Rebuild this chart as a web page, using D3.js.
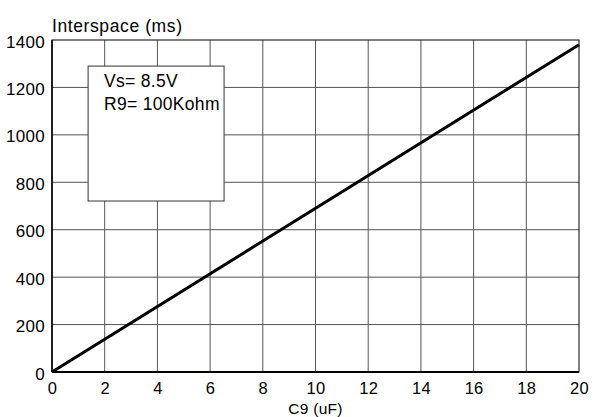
<!DOCTYPE html>
<html><head><meta charset="utf-8">
<script src="https://cdn.jsdelivr.net/npm/d3@7"></script>
<style>body{margin:0;background:#fff}svg{display:block}text{font-family:"Liberation Sans",Arial,sans-serif;fill:#000}</style>
</head><body><svg id="c" width="596" height="417"></svg>
<script>
const xTicks = [0,2,4,6,8,10,12,14,16,18,20];
const yTicks = [0,200,400,600,800,1000,1200,1400];
const c9 = [0, 20];
const interspace = [0, 1380];
const notes = ["Vs= 8.5V", "R9= 100Kohm"];
const yLabel = "Interspace (ms)";
const xLabel = "C9 (uF)";

const svg = d3.select("#c");
const m = {l:52, r:17, t:40, b:45};
const W = 596, H = 417;
const FS = 17;
const x = d3.scaleLinear().domain([0,20]).range([m.l, W-m.r]);
const y = d3.scaleLinear().domain([0,1400]).range([H-m.b, m.t]);

// grid
svg.append("g").selectAll("line").data(xTicks.slice(1,-1)).join("line")
  .attr("x1",d=>x(d)).attr("x2",d=>x(d)).attr("y1",y(0)).attr("y2",y(1400))
  .attr("stroke","#555").attr("stroke-width",1);
svg.append("g").selectAll("line").data(yTicks.slice(1,-1)).join("line")
  .attr("y1",d=>y(d)).attr("y2",d=>y(d)).attr("x1",x(0)).attr("x2",x(20))
  .attr("stroke","#555").attr("stroke-width",1);

// note box
const bx0 = x(1.37), bx1 = x(6.53), by0 = y(1290), by1 = y(721);
svg.append("rect").attr("x",bx0).attr("y",by0).attr("width",bx1-bx0).attr("height",by1-by0)
  .attr("fill","#fff").attr("stroke","#333").attr("stroke-width",1);
svg.append("g").selectAll("text").data(notes).join("text")
  .attr("x",bx0+16).attr("y",(d,i)=>by0+21+i*23).attr("font-size",FS+0.5).attr("letter-spacing",0.3).text(d=>d);

// frame
svg.append("rect").attr("x",x(0)).attr("y",y(1400)).attr("width",x(20)-x(0)).attr("height",y(0)-y(1400))
  .attr("fill","none").attr("stroke","#000").attr("stroke-width",1);
svg.append("line").attr("x1",x(0)).attr("x2",x(20)).attr("y1",y(0)).attr("y2",y(0)).attr("stroke","#000").attr("stroke-width",2);
svg.append("line").attr("x1",x(0)).attr("x2",x(0)).attr("y1",y(0)).attr("y2",y(1400)).attr("stroke","#000").attr("stroke-width",1.5);

// data line
const pts = c9.map((v,i)=>[v, interspace[i]]);
svg.append("path").datum(pts).attr("d", d3.line().x(d=>x(d[0])).y(d=>y(d[1])))
  .attr("fill","none").attr("stroke","#000").attr("stroke-width",3);

// axes labels
const fmt = d3.format("d");
const xa = d3.axisBottom(x).tickValues(xTicks).tickFormat(fmt).tickSize(0).tickPadding(10);
svg.append("g").attr("transform",`translate(0,${y(0)})`).call(xa)
  .call(g=>g.select(".domain").remove())
  .call(g=>g.selectAll("text").attr("font-size",16.5).attr("letter-spacing",0.3).attr("font-family","Liberation Sans, Arial, sans-serif"));
const ya = d3.axisLeft(y).tickValues(yTicks).tickFormat(fmt).tickSize(0).tickPadding(7);
svg.append("g").attr("transform",`translate(${x(0)},0)`).call(ya)
  .call(g=>g.select(".domain").remove())
  .call(g=>g.selectAll("text").attr("font-size",FS).attr("letter-spacing",0.3).attr("dy","0.42em").attr("font-family","Liberation Sans, Arial, sans-serif"));

svg.append("text").attr("x",x(0)).attr("y",y(1400)-8).attr("font-size",FS+0.5).attr("letter-spacing",0.6).text(yLabel);
svg.append("text").attr("x",x(10)).attr("y",H-3).attr("text-anchor","middle").attr("font-size",15.5).attr("letter-spacing",0.3).text(xLabel);
</script></body></html>
